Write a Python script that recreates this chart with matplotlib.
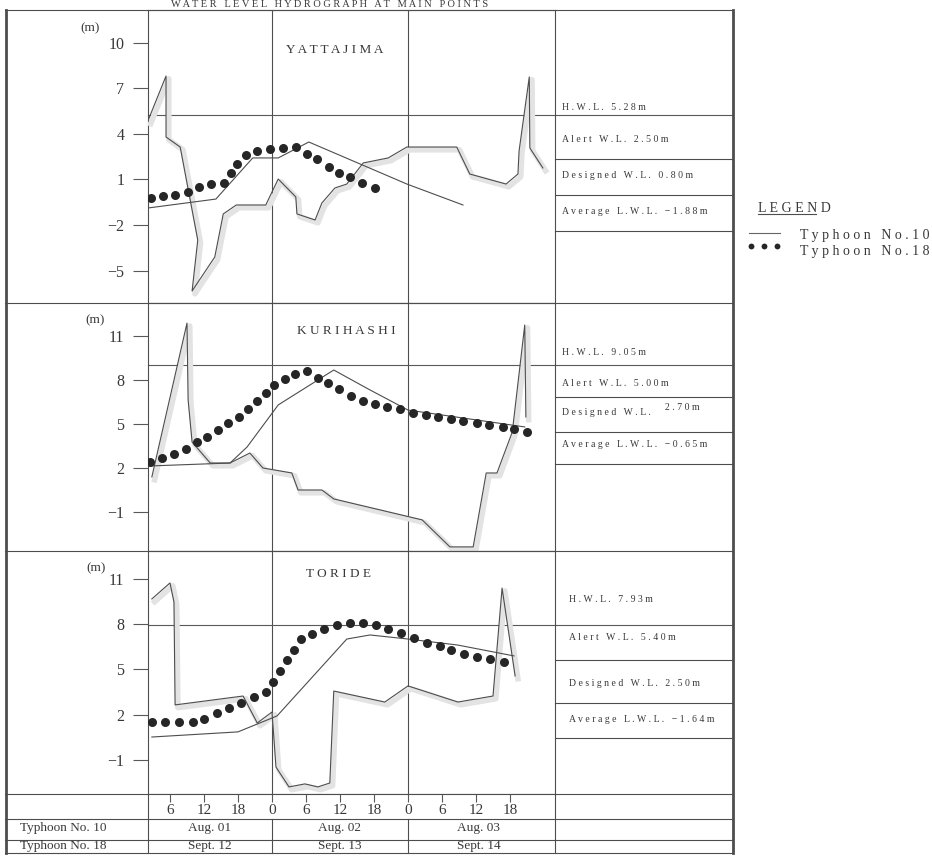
import matplotlib
matplotlib.use('agg')
import matplotlib.pyplot as plt
from matplotlib import patheffects as pe
from matplotlib.lines import Line2D

plt.rcParams['font.family'] = ['Liberation Serif', 'DejaVu Serif']

W, H = 932, 856
X0, X1 = 148, 555            # plot area in pixels
H_MIN, H_MAX = 2.12, 73.94   # hours counted from 00:00 of the first day

# ---- data (hour, water level in m)
yat_t10_h = [2.1, 14.1, 20.6, 25.1, 30.5, 47.8, 57.7]
yat_t10_v = [-0.88, -0.29, 2.42, 2.42, 3.47, 0.70, -0.68]
yat_t10s_h = [2.1, 5.3, 5.3, 7.8, 10.9, 9.9, 13.9, 15.4, 17.7, 22.9, 25.1, 28.2, 28.4, 31.6,
              32.8, 35.1, 37.2, 40.1, 44.5, 47.8, 56.6, 58.9, 65.3, 67.4, 67.6, 69.4, 69.5, 71.8]
yat_t10s_v = [4.86, 7.82, 3.80, 3.14, -2.99, -6.35, -4.11, -1.27, -0.68, -0.68, 1.03, -0.15, -1.27, -1.67,
              -0.55, 0.44, 0.70, 2.09, 2.42, 3.14, 3.14, 1.36, 0.70, 1.36, 2.88, 7.76, 3.08, 1.76]
yat_t18_h = [2.6, 4.8, 6.9, 9.2, 11.1, 13.2, 15.5, 16.8, 17.8, 19.4, 21.4, 23.6, 25.9, 28.2,
             30.2, 31.9, 34.1, 35.8, 37.8, 39.9, 42.2]
yat_t18_v = [-0.22, -0.09, -0.02, 0.18, 0.51, 0.70, 0.77, 1.43, 2.02, 2.62, 2.88, 3.01, 3.08, 3.14,
             2.68, 2.35, 1.82, 1.43, 1.16, 0.77, 0.44]
yat_levels = [5.28, 2.50, 0.80, -1.88]

kur_t10_h = [2.6, 16.6, 19.6, 25.1, 34.9, 41.3, 48.0, 68.6]
kur_t10_v = [2.14, 2.34, 3.43, 6.30, 8.68, 7.32, 5.95, 4.80]
kur_t10s_h = [2.8, 9.0, 9.2, 9.9, 13.1, 16.6, 20.1, 22.4, 27.5, 28.6, 32.8, 34.9, 50.5, 55.4,
              59.5, 61.8, 63.7, 66.4, 68.6, 68.8]
kur_t10s_v = [1.39, 11.88, 6.64, 3.77, 2.34, 2.34, 3.02, 2.00, 1.66, 0.50, 0.50, -0.11, -1.54, -3.38,
              -3.38, 1.66, 1.66, 4.45, 11.75, 5.48]
kur_t18_h = [2.5, 4.6, 6.7, 8.8, 10.8, 12.5, 14.5, 16.2, 18.2, 19.8, 21.4, 22.9, 24.4, 26.3, 28.1,
             30.2, 32.1, 33.9, 35.8, 37.9, 40.1, 42.2, 44.3, 46.6, 48.9, 51.2, 53.3, 55.6, 57.7,
             60.2, 62.3, 64.8, 66.7, 69.0]
kur_t18_v = [2.41, 2.68, 2.96, 3.30, 3.77, 4.11, 4.59, 5.07, 5.48, 6.02, 6.57, 7.11, 7.66, 8.07, 8.41,
             8.61, 8.14, 7.79, 7.39, 6.91, 6.57, 6.36, 6.16, 6.02, 5.75, 5.61, 5.48, 5.34, 5.20,
             5.07, 4.93, 4.80, 4.66, 4.45]
kur_levels = [9.05, 5.00, 2.70, -0.65]

tor_t10_h = [2.8, 18.0, 24.9, 37.2, 41.3, 48.0, 56.8, 66.7]
tor_t10_v = [0.52, 0.86, 1.92, 7.02, 7.29, 7.02, 6.62, 5.90]
tor_t10s_h = [2.8, 6.0, 6.7, 6.9, 18.9, 21.4, 24.0, 24.7, 27.0, 29.8, 32.1, 34.2, 34.9, 43.9,
              48.0, 56.8, 63.0, 64.6, 66.9]
tor_t10s_v = [9.68, 10.74, 9.48, 2.65, 3.24, 1.45, 2.18, -1.47, -2.79, -2.59, -2.79, -2.53, 3.57, 2.84,
              3.91, 2.84, 3.24, 10.40, 4.57]
tor_t18_h = [2.8, 5.1, 7.6, 10.1, 12.0, 14.3, 16.4, 18.5, 20.8, 22.9, 24.2, 25.4, 26.6, 27.9, 29.1,
             31.1, 33.2, 35.5, 37.8, 40.1, 42.4, 44.5, 46.8, 49.1, 51.4, 53.6, 55.6, 57.9, 60.2,
             62.5, 64.9]
tor_t18_v = [1.52, 1.52, 1.52, 1.52, 1.72, 2.12, 2.45, 2.78, 3.18, 3.51, 4.17, 4.90, 5.63, 6.29, 7.02,
             7.35, 7.69, 7.95, 8.08, 8.08, 7.95, 7.69, 7.42, 7.09, 6.76, 6.56, 6.29, 6.03, 5.83,
             5.70, 5.50]
tor_levels = [7.93, 5.40, 2.50, -1.64]

stations = ['YATTAJIMA', 'KURIHASHI', 'TORIDE']
level_names = ['H.W.L.', 'Alert W.L.', 'Designed W.L.', 'Average L.W.L.']
tick_hours = [6, 12, 18, 24, 30, 36, 42, 48, 54, 60, 66]
dates_t10 = ['Aug. 01', 'Aug. 02', 'Aug. 03']
dates_t18 = ['Sept. 12', 'Sept. 13', 'Sept. 14']

panels = [
    dict(t10=(yat_t10_h, yat_t10_v), t10s=(yat_t10s_h, yat_t10s_v), t18=(yat_t18_h, yat_t18_v),
         levels=yat_levels, ylim=(-7.14, 12.17), yticks=[-5, -2, 1, 4, 7, 10]),
    dict(t10=(kur_t10_h, kur_t10_v), t10s=(kur_t10s_h, kur_t10s_v), t18=(kur_t18_h, kur_t18_v),
         levels=kur_levels, ylim=(-3.66, 13.25), yticks=[-1, 2, 5, 8, 11]),
    dict(t10=(tor_t10_h, tor_t10_v), t10s=(tor_t10s_h, tor_t10s_v), t18=(tor_t18_h, tor_t18_v),
         levels=tor_levels, ylim=(-3.26, 12.86), yticks=[-1, 2, 5, 8, 11]),
]

# layout, pixels
panel_px = [(10, 303), (303, 551), (551, 794)]
name_px = [(335, 50), (346, 331), (338, 574)]
unit_px = [(90, 28), (95, 320), (96, 568)]
table_x = [562, 562, 569]
table_text_y = [[108, 139, 176, 212], [352, 383, 413, 445], [600, 638, 684, 720]]
table_rows_y = [[159, 195, 231], [397, 432, 464], [660, 703, 738]]

INK = '0.22'


def fx(x):
    return x / W


def fy(y):
    return 1 - y / H


def spaced(s):
    return ' '.join(s)


fig = plt.figure(figsize=(W / 100, H / 100), dpi=100)
fig.patch.set_facecolor('white')


def fig_line(x0, y0, x1, y1, lw=0.8, color='0.3'):
    fig.add_artist(Line2D([fx(x0), fx(x1)], [fy(y0), fy(y1)], color=color, lw=lw))


shadow = [pe.SimpleLineShadow(offset=(2.0, -2.0), shadow_color='0.89', alpha=1, linewidth=4),
          pe.Normal()]

for i, p in enumerate(panels):
    top, bot = panel_px[i]
    ax = fig.add_axes([fx(X0), fy(bot), (X1 - X0) / W, (bot - top) / H])
    ax.set_xlim(H_MIN, H_MAX)
    ax.set_ylim(*p['ylim'])
    ax.set_xticks([])
    ax.set_yticks(p['yticks'])
    ax.set_yticklabels([str(t).replace('-', '\u2212') for t in p['yticks']])
    ax.tick_params(axis='y', direction='out', length=11, width=0.8, color='0.35',
                   pad=6, labelsize=11.5, labelcolor=INK)
    for sp in ax.spines.values():
        sp.set_color('0.3')
        sp.set_linewidth(0.8)

    ax.axvline(24, color='0.3', lw=0.8)
    ax.axvline(48, color='0.3', lw=0.8)
    ax.axhline(p['levels'][0], xmin=0, xmax=(733 - X0) / (X1 - X0), clip_on=False,
               color='0.35', lw=0.8)

    ax.plot(*p['t10s'], color='0.3', lw=0.8, path_effects=shadow, zorder=3)
    ax.plot(*p['t10'], color='0.3', lw=0.8, zorder=3)
    ax.plot(*p['t18'], 'o', color='0.15', ms=6.5, mew=0, zorder=4)

    nx, ny = name_px[i]
    fig.text(fx(nx), fy(ny), spaced(stations[i]), ha='center', va='center',
             fontsize=9.5, color=INK)
    ux, uy = unit_px[i]
    fig.text(fx(ux), fy(uy), '(m)', ha='center', va='center', fontsize=9.5, color=INK)

    # water level table on the right
    for y in table_rows_y[i]:
        fig_line(X1, y, 733, y)
    for k, (name, lev) in enumerate(zip(level_names, p['levels'])):
        val = f'{lev:.2f}m'.replace('-', '\u2212')
        ty = table_text_y[i][k]
        if i == 1 and k == 2:
            fig.text(fx(table_x[i]), fy(ty), spaced(name), ha='left', va='center',
                     fontsize=7, color=INK)
            fig.text(fx(665), fy(ty - 6), spaced(val), ha='left', va='center',
                     fontsize=7, color=INK)
        else:
            fig.text(fx(table_x[i]), fy(ty), spaced(name) + '   ' + spaced(val),
                     ha='left', va='center', fontsize=7, color=INK)

# bottom time table
axb = fig.add_axes([fx(X0), fy(853), (X1 - X0) / W, (853 - 794) / H])
axb.set_xlim(H_MIN, H_MAX)
axb.set_ylim(853, 794)
axb.set_yticks([])
for sp in axb.spines.values():
    sp.set_visible(False)
axb.set_xticks(tick_hours)
axb.tick_params(axis='x', direction='in', top=True, bottom=False, labelbottom=False,
                length=6, width=0.8, color='0.35')
for hr in tick_hours:
    axb.text(hr, 811, str(hr % 24), ha='center', va='center', fontsize=11, color=INK)
axb.axvline(24, ymin=0, ymax=(853 - 819) / 59, color='0.3', lw=0.8)
axb.axvline(48, ymin=0, ymax=(853 - 819) / 59, color='0.3', lw=0.8)
for d, c in enumerate([13, 36, 60.5]):
    axb.text(c, 828, dates_t10[d], ha='center', va='center', fontsize=9.5, color=INK)
    axb.text(c, 846.5, dates_t18[d], ha='center', va='center', fontsize=9.5, color=INK)
fig.text(fx(20), fy(828), 'Typhoon No. 10', ha='left', va='center', fontsize=9.5, color=INK)
fig.text(fx(20), fy(846.5), 'Typhoon No. 18', ha='left', va='center', fontsize=9.5, color=INK)

# frame
for y in [10, 303, 551, 794, 819, 840, 853]:
    fig_line(5, y, 733, y)
fig_line(6, 10, 6, 853, lw=2)
fig_line(733, 10, 733, 853, lw=2)
fig_line(X0, 794, X0, 853)
fig_line(X1, 794, X1, 853)

# heading strip above the frame
fig.text(fx(330), fy(4.5), spaced('WATER LEVEL HYDROGRAPH AT MAIN POINTS'), ha='center',
         va='center', fontsize=7.5, color=INK)

# legend
fig.text(fx(758), fy(208), spaced('LEGEND'), ha='left', va='center', fontsize=10, color=INK)
fig_line(758, 214, 816, 214, lw=0.8)
fig_line(749, 233, 780, 233, lw=0.8, color='0.4')
fig.text(fx(800), fy(236), spaced('Typhoon No.10'), ha='left', va='center', fontsize=10,
         color=INK)
fig.add_artist(Line2D([fx(751), fx(764), fx(777)], [fy(246)] * 3, ls='none', marker='o',
                      ms=4.2, mew=0, color='0.15'))
fig.text(fx(800), fy(251), spaced('Typhoon No.18'), ha='left', va='center', fontsize=10,
         color=INK)

fig.savefig('out.png', dpi=100, facecolor='white')
